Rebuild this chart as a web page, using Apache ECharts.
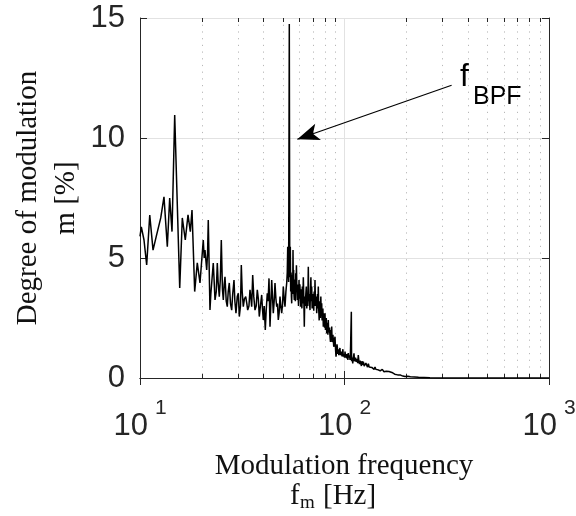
<!DOCTYPE html>
<html>
<head>
<meta charset="utf-8">
<script src="https://cdn.jsdelivr.net/npm/echarts@6/dist/echarts.min.js"></script>
<style>
  html, body { margin: 0; padding: 0; background: #fff; }
  #main { width: 576px; height: 516px; }
</style>
</head>
<body>
<div id="main"></div>
<script>
// spectrum, [frequency Hz, modulation %]
var lowBand = [[10.0,5.9],[10.15,6.3],[10.46,5.75],[10.78,4.71],[11.16,6.79],[11.58,5.33],[12.01,5.9],
    [12.63,6.67],[13.1,7.55],[13.6,5.47],[13.97,7.5],[14.34,6.1],[14.78,10.96],[15.64,3.75],[16.1,6.67],
    [16.65,5.75],[17.17,6.8],[17.62,6.1],[17.96,7.0],[18.51,3.6],[19.06,4.8],[19.65,3.96]];
var midBand = [[20.39,5.75],[20.6,5.0],[20.79,5.33],[21.19,4.5],[21.4,5.2],[21.57,6.58],[21.99,2.83],
    [22.2,3.5],[22.42,3.96],[22.82,4.79],[23.0,4.2],[23.27,3.25],[23.6,3.6],[23.88,4.79],[24.1,4.0],
    [24.42,3.39],[24.7,4.1],[24.98,5.75],[25.3,3.7],[25.55,3.25],[25.8,3.9],[26.04,4.22],[26.4,3.2],
    [26.72,2.97],[27.0,3.6],[27.33,3.96],[27.7,3.1],[28.08,2.83],[28.4,3.5],[28.82,4.08],[29.1,3.2],
    [29.47,2.7],[29.9,3.4],[30.25,3.53],[30.59,2.56],[31.0,3.0],[31.29,4.71],[31.6,3.6],[32.0,2.97],
    [32.4,3.3],[32.88,3.39],[33.3,3.1],[33.62,2.83],[34.1,3.0],[34.5,3.67],[34.8,3.4],[35.17,2.97],
    [35.57,4.29],[36.0,3.4],[36.5,2.83],[37.0,3.0],[37.46,3.67],[37.9,3.3],[38.31,2.56],[38.8,3.0],
    [39.36,3.46],[39.7,2.9],[40.08,2.42],[40.5,3.0],[40.99,2.0],[41.4,2.8],[41.92,3.53],[42.3,3.2],
    [42.74,4.15],[43.22,2.14],[43.6,3.0],[44.06,4.08],[44.5,3.3],[44.86,2.7],[45.3,3.2],[45.72,3.96],
    [46.2,3.3],[46.61,2.97],[47.0,3.1],[47.45,2.42],[47.9,2.7],[48.37,3.39],[48.8,3.0],[49.31,2.7],[49.8,3.1]];
var bpfBand = [[50.2,3.81],[50.7,3.3],[51.17,2.97],[51.7,3.6],[52.16,3.96],[52.5,4.4],[52.76,5.47],
    [53.3,4.0],[53.71,14.75],[54.0,4.2],[54.32,5.47],[54.55,3.6],[54.8,4.4],[55.0,3.4],[55.19,3.11],
    [55.4,4.3],[55.6,4.0],[55.8,3.5],[56.0,5.33],[56.2,3.9],[56.4,4.5],[56.6,3.5],[56.83,3.25],[57.05,4.1],
    [57.3,3.6],[57.5,3.2],[57.73,4.36],[57.95,3.6],[58.2,4.7],[58.5,3.7],[58.78,3.25],[59.05,3.9],
    [59.3,3.4],[59.6,3.0],[59.92,4.08],[60.2,3.3],[60.5,3.9],[60.8,3.4],[61.08,2.97],[61.35,3.7],
    [61.6,3.2],[61.9,2.9],[62.19,3.81],[62.55,3.1],[62.9,4.2],[63.25,3.3],[63.6,2.14],[63.95,3.4],
    [64.3,3.0],[64.7,3.5],[65.05,3.81],[65.4,2.9],[65.8,3.3],[66.15,3.0],[66.53,4.64],[66.85,3.2],
    [67.2,3.5],[67.5,3.1],[67.82,2.83],[68.15,3.6],[68.5,4.2],[68.8,3.2],[69.13,3.81],[69.45,2.9],
    [69.8,3.0],[70.1,3.5],[70.38,3.25],[70.75,2.8],[71.1,3.6],[71.4,3.0],[71.74,4.08],[72.05,3.3],
    [72.4,3.0],[72.75,3.4],[73.13,2.7],[73.45,3.1],[73.8,3.5],[74.1,2.9],[74.46,3.81],[74.85,2.8],
    [75.2,2.4],[75.55,3.2],[75.9,2.83],[76.25,2.5],[76.6,3.4],[77.0,2.6],[77.37,3.11],[77.7,2.4],
    [78.0,2.6],[78.4,2.9],[78.77,2.14],[79.1,2.7],[79.5,2.4],[79.9,2.1],[80.3,2.7],[80.7,2.0],
    [81.1,2.3],[81.45,2.5],[81.85,1.86],[82.2,2.3],[82.6,2.1],[82.95,1.8],[83.33,2.42],[83.7,1.9],
    [84.1,1.9],[84.5,2.1],[84.95,1.72],[85.4,1.5],[85.8,2.0],[86.2,1.6],[86.59,2.14],[87.0,1.5],
    [87.4,1.6],[87.8,1.8],[88.16,1.58],[88.6,1.3],[89.0,1.4],[89.4,1.6],[89.87,1.72],[90.4,1.2],
    [90.89,0.89],[91.5,1.1],[91.9,1.4],[92.23,1.3],[92.7,1.0],[93.3,1.2],[93.8,0.95],[94.33,1.1],
    [95.0,1.25],[95.6,0.95],[96.2,1.1],[96.91,1.17],[97.3,0.9],[97.8,1.05],[98.2,1.2],[98.66,0.89],
    [99.1,1.0],[99.6,0.95],[100.1,0.85],[100.6,1.1],[101.0,0.95],[101.5,0.85],[102.0,1.0],[102.5,0.82],
    [102.9,0.9],[103.4,1.0],[103.9,0.75],[104.4,1.04],[104.9,0.85],[105.4,0.8],[105.9,0.95],[106.4,0.75],
    [106.8,0.85],[107.2,0.9],[107.7,0.8],[108.0,2.76],[108.3,0.7],[108.8,0.7],[109.2,0.85],[109.7,0.61]];
var tail = [[110.5,0.85],[111.3,1.03],[111.9,0.7],[112.5,0.72],[113.2,0.85],[113.8,0.68],[114.5,0.6],
    [115.2,0.8],[116,0.62],[116.8,0.96],[117.6,0.7],[118.4,0.58],[119.2,0.72],[120.0,0.61],[121,0.5],
    [121.8,0.7],[122.7,0.55],[123.6,0.68],[124.8,0.5],[126,0.52],[127.2,0.62],[128.4,0.54],[129.6,0.45],
    [130.8,0.6],[132,0.46],[133.3,0.54],[134.6,0.4],[136,0.44],[137,0.5],[138,0.42],[139.5,0.36],
    [141,0.46],[142.3,0.36],[143.7,0.4],[145,0.32],[146,0.34],[147,0.4],[148,0.38],[149.5,0.3],
    [151,0.3],[153,0.36],[154.8,0.33],[156,0.26],[157,0.27],[158.5,0.3],[160,0.28],[161.5,0.22],
    [163,0.22],[165,0.27],[166.9,0.26],[168,0.2],[169,0.2],[170.5,0.23],[172,0.22],[174,0.16],
    [176,0.16],[178,0.18],[180,0.17],[182,0.13],[184,0.12],[186,0.14],[188,0.12],[190,0.09],[193,0.08],
    [197.6,0.06],[204,0.07],[210,0.05],[220,0.04],[230,0.03],[245,0.02],[261.8,0.01],[300,0],[460,0],[1000,0]];

var minorTicks = [20, 30, 40, 50, 60, 70, 80, 90, 200, 300, 400, 500, 600, 700, 800, 900];
var yTicks = [0, 5, 10, 15];
// arrow: from label towards the BPF peak
var arrowFrom = [334, 12.2];
var arrowTo = [58.8, 9.95];

var spectrum = lowBand.concat(midBand, bpfBand, tail);
var axisColor = '#262626';

var chart = echarts.init(document.getElementById('main'));

var xAxisBase = {
    type: 'log',
    logBase: 10,
    min: 10,
    max: 1000,
    axisLine: { show: true, lineStyle: { color: axisColor, width: 1 } },
    axisTick: { show: true, inside: true, length: 7, lineStyle: { color: axisColor } },
    minorTick: { show: false },
    splitLine: { show: false }
};
var yAxisBase = {
    type: 'value',
    min: yTicks[0],
    max: yTicks[yTicks.length - 1],
    interval: 5,
    axisLine: { show: true, lineStyle: { color: axisColor, width: 1 } },
    axisTick: { show: true, inside: true, length: 7, lineStyle: { color: axisColor } },
    splitLine: { show: false }
};

var option = {
    animation: false,
    backgroundColor: '#fff',
    textStyle: { fontFamily: 'Liberation Sans' },
    grid: { left: 140, right: 27, top: 18, bottom: 138, outerBoundsMode: 'none', containLabel: false },
    xAxis: [
        Object.assign({}, xAxisBase, {
            position: 'bottom',
            splitLine: { show: true, lineStyle: { color: '#e2e2e2', width: 1 } },
            axisLabel: {
                show: true,
                margin: 20,
                showMinLabel: true,
                showMaxLabel: true,
                formatter: function (v) {
                    return '{b|10}{s|' + Math.round(Math.log10(v)) + '}';
                },
                rich: {
                    b: { fontSize: 31, fontFamily: 'Liberation Sans', color: axisColor, lineHeight: 44, verticalAlign: 'bottom' },
                    s: { fontSize: 21, fontFamily: 'Liberation Sans', color: axisColor, lineHeight: 21, verticalAlign: 'top', padding: [0, 0, 0, 7] }
                }
            }
        }),
        Object.assign({}, xAxisBase, { position: 'top', axisLabel: { show: false } })
    ],
    yAxis: [
        Object.assign({}, yAxisBase, {
            position: 'left',
            splitLine: { show: true, lineStyle: { color: '#e2e2e2', width: 1 } },
            axisLabel: { show: true, margin: 15, fontSize: 31, color: axisColor, fontFamily: 'Liberation Sans' }
        }),
        Object.assign({}, yAxisBase, { position: 'right', axisLabel: { show: false } })
    ],
    graphic: [
        { type: 'text', x: 28, y: 198, rotation: Math.PI / 2,
          style: { text: 'Degree of modulation', font: '29px "Liberation Serif"', fill: '#111', align: 'center', verticalAlign: 'middle' } },
        { type: 'text', x: 66, y: 198, rotation: Math.PI / 2,
          style: { text: 'm [%]', font: '29px "Liberation Serif"', fill: '#111', align: 'center', verticalAlign: 'middle' } },
        { type: 'text', x: 344, y: 466,
          style: { text: 'Modulation frequency', font: '29px "Liberation Serif"', fill: '#111', align: 'center', verticalAlign: 'middle' } },
        { type: 'text', x: 290, y: 496,
          style: { text: 'f', font: '29px "Liberation Serif"', fill: '#111', align: 'left', verticalAlign: 'middle' } },
        { type: 'text', x: 300, y: 503,
          style: { text: 'm', font: '19px "Liberation Serif"', fill: '#111', align: 'left', verticalAlign: 'middle' } },
        { type: 'text', x: 323, y: 496,
          style: { text: '[Hz]', font: '29px "Liberation Serif"', fill: '#111', align: 'left', verticalAlign: 'middle' } },
        { type: 'text', x: 460, y: 77,
          style: { text: 'f', font: '32px "Liberation Sans"', fill: '#000', align: 'left', verticalAlign: 'middle' } },
        { type: 'text', x: 473, y: 97,
          style: { text: 'BPF', font: '25px "Liberation Sans"', fill: '#000', align: 'left', verticalAlign: 'middle' } }
    ],
    series: [
        {
            // dotted minor grid + minor ticks on the log axis
            type: 'custom',
            silent: true,
            z: 1,
            data: minorTicks.map(function (f) { return [f, 0]; }),
            encode: { x: 0, y: 1 },
            renderItem: function (params, api) {
                var x = Math.round(api.coord([api.value(0), 0])[0]) + 0.5;
                var cs = params.coordSys;
                var top = cs.y, bottom = cs.y + cs.height;
                return {
                    type: 'group',
                    children: [
                        { type: 'line', shape: { x1: x, y1: top, x2: x, y2: bottom },
                          style: { stroke: '#b8b8b8', lineWidth: 1, lineDash: [1.2, 5.5] } },
                        { type: 'line', shape: { x1: x, y1: bottom, x2: x, y2: bottom - 4 },
                          style: { stroke: axisColor, lineWidth: 1 } },
                        { type: 'line', shape: { x1: x, y1: top, x2: x, y2: top + 4 },
                          style: { stroke: axisColor, lineWidth: 1 } }
                    ]
                };
            }
        },
        {
            type: 'line',
            data: spectrum,
            showSymbol: false,
            symbol: 'none',
            z: 3,
            lineStyle: { color: '#000', width: 1.5 },
            markLine: {
                silent: true,
                symbol: ['none', 'arrow'],
                symbolSize: [13, 22],
                label: { show: false },
                lineStyle: { color: '#000', width: 1.2, type: 'solid' },
                emphasis: { disabled: true },
                data: [[{ coord: arrowFrom }, { coord: arrowTo }]]
            }
        }
    ]
};

chart.setOption(option);
</script>
</body>
</html>
